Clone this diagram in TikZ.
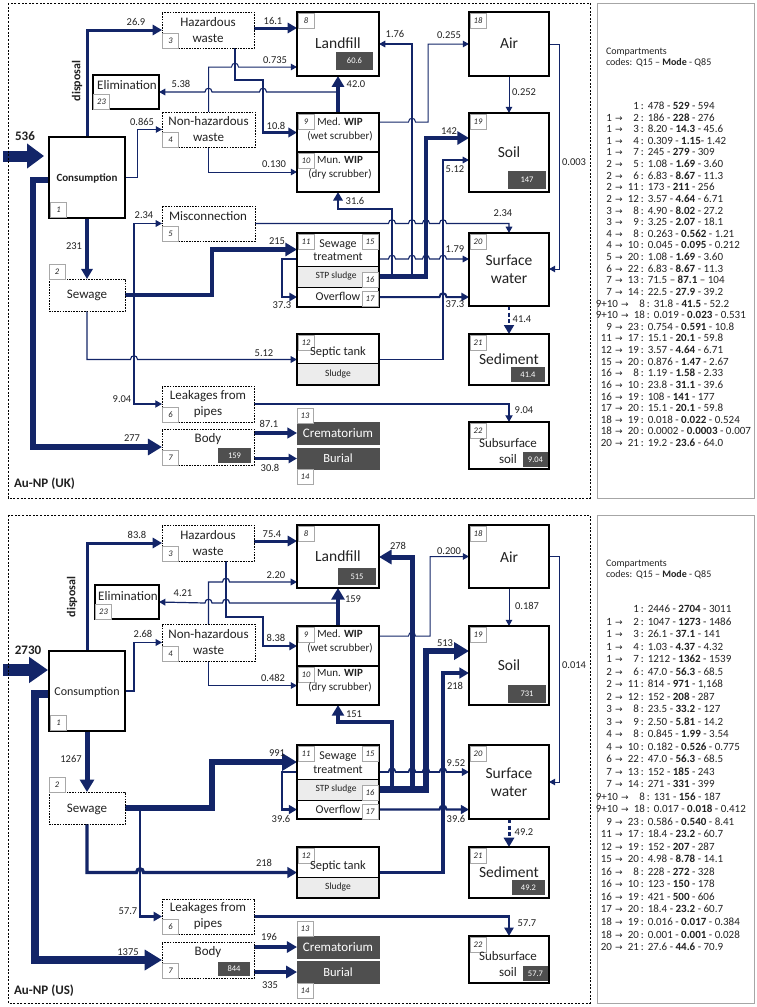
\documentclass[tikz,border=0pt]{standalone}
\usepackage{fontspec}
\setmainfont{Carlito}
\newfontfamily\djv{DejaVu Sans}
\usetikzlibrary{arrows.meta,calc}
\definecolor{nv}{HTML}{132568}
\definecolor{txt}{HTML}{222222}
\definecolor{vg}{HTML}{4F4F4F}
\definecolor{lg}{HTML}{ECECEC}
\definecolor{tg}{HTML}{A8A8A8}
\pgfdeclarelayer{bg}
\pgfsetlayers{bg,main}
\newcommand\mkbox[7][]{%
  \pgfmathsetmacro\mkcx{(#3+#5)/2}\pgfmathsetmacro\mkcy{(#4+#6)/2}%
  \pgfmathsetmacro\mkw{#5-(#3)}\pgfmathsetmacro\mkh{#6-(#4)}%
  \node[minimum width=\mkw pt, minimum height=\mkh pt, #1] (#2) at (\mkcx,\mkcy) {#7};}
\newcommand\tagn[4]{\mkbox[tagst]{#1}{#2}{#3}{#2+16}{#3+15}{#4}}
\newcommand\bumpR[2]{-- ({#1-3.5},#2) .. controls ({#1-3.5},{#2-5}) and ({#1+3.5},{#2-5}) .. ({#1+3.5},#2)}
\newcommand\bumpL[2]{-- ({#1+3.5},#2) .. controls ({#1+3.5},{#2-5}) and ({#1-3.5},{#2-5}) .. ({#1-3.5},#2)}
\def\tbase{0}\def\tstep{0}
\newcommand\trow[6][601]{%
  \pgfmathsetmacro\tyy{\tbase+#3*\tstep}%
  \node[tr, anchor=base west] (#2) at (#1,\tyy) {\makebox[11pt][r]{#4}\makebox[14pt]{\ifx\relax#4\relax\else{\djv\fontsize{9}{9}\selectfont →}\fi}\makebox[13pt][r]{#5}\,:\hspace{4pt}#6};}
\tikzset{
  every node/.style={inner sep=0pt, outer sep=0pt, text=txt},
  mb/.style={draw=black, line width=2.3pt, fill=white},
  tb/.style={draw=black, line width=1.3pt, fill=white},
  db/.style={draw=black, line width=0.9pt, dash pattern=on 1.6pt off 1.1pt, fill=white},
  tagst/.style={draw=tg, line width=0.6pt, fill=white, font=\fontsize{8.5}{9}\selectfont\itshape},
  valst/.style={fill=vg, text=white, font=\fontsize{8.5}{9}\selectfont},
  dk/.style={fill=vg, draw=vg, text=white},
  gr/.style={fill=lg, draw=black, line width=0.6pt},
  fl/.style={draw=nv, line width=#1, -{Triangle[length=4.5pt 1.6, width=4.5pt 1.9]}},
  ln/.style={draw=nv, line width=#1},
  lab/.style={font=\fontsize{10.5}{12}\selectfont},
  bigt/.style={font=\fontsize{15.5}{18}\selectfont, align=center},
  midt/.style={font=\fontsize{13}{16}\selectfont, align=center},
  smt/.style={font=\fontsize{11}{14}\selectfont, align=center},
  pan/.style={draw=black, line width=0.9pt, dash pattern=on 2pt off 1.6pt},
  tbl/.style={draw=black!35, line width=0.8pt},
  tr/.style={font=\fontsize{11}{12}\selectfont},
  hd/.style={font=\fontsize{10}{11}\selectfont},
}
\begin{document}
\begin{tikzpicture}[x=1pt,y=-1pt]
\useasboundingbox (0,0) rectangle (756,1007);
\begin{pgfonlayer}{bg}
\fill[white] (0,0) rectangle (756,1007);
\end{pgfonlayer}
\draw[pan] (8,3) rectangle (590,498);
\draw[pan] (8,515) rectangle (590,1003);
\draw[tbl] (597,3) rectangle (754,498);
\draw[tbl] (597,515) rectangle (754,1003);

% ================= UK nodes
\mkbox[mb]{n1a}{49}{137}{125}{218}{}
\mkbox[db]{n2a}{49}{279}{125}{311}{}
\mkbox[db]{n3a}{162}{12}{254}{48}{}
\mkbox[db]{n4a}{162}{112}{255}{147}{}
\mkbox[db]{n5a}{162}{206}{255}{241}{}
\mkbox[db]{n6a}{162}{386}{254}{422}{}
\mkbox[db]{n7a}{162}{429}{254}{465}{}
\mkbox[tb]{n23a}{93}{75}{159}{109}{}
\mkbox[mb]{n8a}{297}{12}{379}{76}{}
\mkbox[mb]{n9a}{297}{113}{379}{152}{}
\mkbox[mb]{n10a}{297}{152}{379}{192}{}
\mkbox[mb]{n18a}{469}{12}{549}{76}{}
\mkbox[mb]{n19a}{469}{113}{549}{192}{}
\mkbox[draw=none]{n11a}{297}{233}{379}{266}{}
\mkbox[gr]{n16a}{297}{266}{379}{287}{}
\mkbox[draw=none]{n17a}{297}{287}{379}{307}{}
\mkbox[mb,fill=none]{n15a}{297}{233}{379}{307}{}
\mkbox[mb]{n20a}{469}{233}{549}{306}{}
\mkbox[gr]{sl12a}{297}{363}{379}{385}{}
\mkbox[mb,fill=none]{n12a}{297}{334}{379}{385}{}
\mkbox[mb]{n21a}{469}{334}{549}{385}{}
\mkbox[dk,font=\fontsize{13}{14}\selectfont]{n13a}{297}{422}{379}{444}{Crematorium}
\mkbox[dk,font=\fontsize{12.5}{14}\selectfont]{n14a}{297}{448}{379}{469}{Burial}
\mkbox[tb]{n22a}{469}{422}{549}{469}{}

\mkbox[valst]{v8a}{336}{52}{373}{70}{60.6}
\mkbox[valst]{v19a}{508}{171}{546}{189}{147}
\mkbox[valst]{v21a}{511}{367}{545}{382}{41.4}
\mkbox[valst]{v22a}{523}{452}{548}{467}{9.04}
\mkbox[valst]{v7a}{218}{448}{251}{463}{159}

\tagn{t1a}{50.5}{202}{1}
\tagn{t2a}{49}{264}{2}
\tagn{t3a}{162.5}{33}{3}
\tagn{t4a}{162.5}{132}{4}
\tagn{t5a}{162.5}{226}{5}
\tagn{t6a}{162.5}{407}{6}
\tagn{t7a}{162.5}{450}{7}
\tagn{t23a}{93.5}{94}{23}
\tagn{t8a}{298}{13}{8}
\tagn{t9a}{298}{114}{9}
\tagn{t10a}{298}{153}{10}
\tagn{t18a}{470}{13}{18}
\tagn{t19a}{470}{114}{19}
\tagn{t11a}{298}{234}{11}
\tagn{t15a}{362}{234}{15}
\tagn{t16a}{362}{272}{16}
\tagn{t17a}{362}{291}{17}
\tagn{t20a}{470}{234}{20}
\tagn{t12a}{298}{335}{12}
\tagn{t21a}{470}{335}{21}
\tagn{t13a}{297}{408}{13}
\tagn{t14a}{297}{469}{14}
\tagn{t22a}{470}{423}{22}

\node[font=\bfseries\fontsize{11}{12}\selectfont] (x1a) at (87,178) {Consumption};
\node[midt] (x2a) at (87,295) {Sewage};
\node[midt] (x3a) at (208,30) {Hazardous\\waste};
\node[midt] (x4a) at (208.5,129.5) {Non-hazardous\\waste};
\node[midt] (x5a) at (208,216) {Misconnection};
\node[midt] (x6a) at (208,404) {Leakages from\\pipes};
\node[midt] (x7a) at (208,439) {Body};
\node[midt] (x23a) at (127,85) {Elimination};
\node[bigt] (x8a) at (338,43) {Landfill};
\node[smt] (x9a) at (340,129) {Med. \textbf{WIP}\\(wet scrubber)};
\node[smt] (x10a) at (340,168) {Mun. \textbf{WIP}\\(dry scrubber)};
\node[bigt] (x18a) at (509,43) {Air};
\node[bigt] (x19a) at (509,152) {Soil};
\node[font=\fontsize{12}{13.5}\selectfont, align=center] (x11a) at (338,250) {Sewage\\treatment};
\node[font=\fontsize{9.5}{10}\selectfont] (x16a) at (336,276.5) {STP sludge};
\node[font=\fontsize{12}{13}\selectfont] (x17a) at (338,296) {Overflow};
\node[bigt] (x20a) at (509,269) {Surface\\water};
\node[font=\fontsize{12.5}{13}\selectfont] (x12a) at (338,352) {Septic tank};
\node[font=\fontsize{9.5}{10}\selectfont] (xsla) at (338,374) {Sludge};
\node[bigt] (x21a) at (509,359) {Sediment};
\node[midt] (x22a) at (508,451) {Subsurface\\soil};
\node[font=\bfseries\fontsize{13}{14}\selectfont, anchor=west] (pa) at (14,484) {Au-NP (UK)};

% ================= UK connectors
\begin{pgfonlayer}{bg}
\coordinate (ina) at (3,156);
\draw[draw=nv, line width=11pt, -{Triangle[length=17pt,width=24pt]}, shorten >=5pt] (ina) -- (n1a.west |- ina);
\draw[fl=3pt] (n1a.north) |- (n3a.west);
\draw[fl=1pt] (n1a.east) -- ++(12,0) |- (n4a.west);
\draw[fl=3.5pt] (n1a.south) -- (n2a.north);
\draw[fl=6pt] (n1a.west |- 0,180) -- (33,180) |- (n7a.west);
\draw[fl=4.5pt] (n2a.east) -- (212,295) |- (n11a.west);
\coordinate (s2a) at (134,295);
\draw[fl=1.1pt] (s2a) |- (n5a.west);
\draw[fl=1.4pt] (s2a) |- (n6a.west);
\draw[fl=1.1pt] (n2a.south) -- (87,359.5) \bumpR{134}{359.5} -- (n12a.west);
\draw[fl=2pt] (n11a.west |- 0,259) -- (282,259) |- (n17a.west);
\draw[fl=1.4pt] (n6a.east) -| (n22a.north);
\draw[fl=3.2pt] (n7a.east |- n13a.west) -- (n13a.west);
\draw[fl=2.5pt] (n7a.east |- n14a.west) -- (n14a.west);
\draw[fl=3pt] (n3a.east |- 0,28) -- (n8a.west |- 0,28);
\draw[fl=1pt] (n4a.north) -- (208.5,67) \bumpR{235}{67} -- (n8a.west |- 0,67);
\draw[fl=2.6pt] (n3a.south -| 235,0) -- (235,80) -- (263,80) -- (263,132.5) -- (n9a.west);
\draw[fl=1pt] (n4a.south) |- (n10a.west);
\coordinate (j9a) at (338,92);
\draw[fl=1.1pt] (j9a) \bumpL{263}{92} \bumpL{208.5}{92} -- (n23a.east);
\draw[fl=4pt] (n9a.north) -- (n8a.south);
\draw[ln=5pt] (n16a.east) -- (426,276.5);
\draw[fl=1.1pt] (n16a.east) -| (412,44) -- (n8a.east);
\draw[fl=1pt] (n9a.east |- 0,122) \bumpR{412}{122} -- (428,122) |- (n18a.west);
\draw[fl=1pt] (n18a.south) -- (n19a.north);
\draw[fl=1pt] (n18a.east) -- (559,44) |- (n20a.east |- 0,269);
\draw[fl=4.5pt] (n16a.east) -| (426,138) -- (n19a.west |- 0,138);
\draw[fl=1.1pt] (n12a.east) -- (443,359.5) |- (n19a.west |- 0,160);
\draw[fl=2.5pt] (n16a.east) -| (392,209) -| (n10a.south);
\draw[fl=1.1pt] (n5a.east) \bumpR{392}{223.5} \bumpR{412}{223.5} \bumpR{426}{223.5} \bumpR{443}{223.5} -| (n20a.north);
\draw[fl=1.1pt] (n11a.east |- 0,259) \bumpR{392}{259} \bumpR{412}{259} \bumpR{426}{259} \bumpR{443}{259} -- (n20a.west |- 0,259);
\draw[fl=2pt] (n17a.east) \bumpR{443}{297} -- (n20a.west |- n17a.east);
\draw[fl=2.8pt, dash pattern=on 4pt off 2.5pt] (n20a.south) -- (n21a.north);
\end{pgfonlayer}

% UK flow labels
\node[font=\bfseries\fontsize{13}{14}\selectfont] (la1) at (25,136) {536};
\node[font=\bfseries\fontsize{12}{13}\selectfont, rotate=90] (la3) at (77,81) {disposal};
\node[lab] (la2) at (136,22) {26.9};
\node[lab] (la4) at (142,122) {0.865};
\node[lab] (la5) at (74,246) {231};
\node[lab] (la6) at (132,438) {277};
\node[lab] (la7) at (144,215) {2.34};
\node[lab] (la8) at (122,399) {9.04};
\node[lab] (la9) at (277,241) {215};
\node[lab] (la10) at (264,353) {5.12};
\node[lab] (la11) at (282,305) {37.3};
\node[lab] (la12) at (524,410) {9.04};
\node[lab] (la13) at (269,424) {87.1};
\node[lab] (la14) at (270,468) {30.8};
\node[lab] (la15) at (273,21) {16.1};
\node[lab] (la16) at (275,60) {0.735};
\node[lab] (la17) at (276,126) {10.8};
\node[lab] (la18) at (274,164) {0.130};
\node[lab] (la19) at (181,84) {5.38};
\node[lab] (la20) at (356,84) {42.0};
\node[lab] (la21) at (395,34) {1.76};
\node[lab] (la22) at (449,35) {0.255};
\node[lab] (la23) at (524,92) {0.252};
\node[lab] (la24) at (574,162) {0.003};
\node[lab] (la25) at (449,131) {142};
\node[lab] (la26) at (455,169) {5.12};
\node[lab] (la27) at (355,201) {31.6};
\node[lab] (la28) at (503,213) {2.34};
\node[lab] (la29) at (455,249) {1.79};
\node[lab] (la30) at (455,304) {37.3};
\node[lab] (la31) at (522,319) {41.4};

% ================= US nodes
\mkbox[mb]{n1b}{49}{651}{125}{731}{}
\mkbox[db]{n2b}{49}{792}{125}{824}{}
\mkbox[db]{n3b}{162}{525}{254}{561}{}
\mkbox[db]{n4b}{162}{624}{255}{661}{}
\mkbox[db]{n6b}{162}{899}{254}{934}{}
\mkbox[db]{n7b}{162}{942}{254}{978}{}
\mkbox[tb]{n23b}{95}{585}{159}{619}{}
\mkbox[mb]{n8b}{297}{525}{379}{588}{}
\mkbox[mb]{n9b}{297}{626}{379}{666}{}
\mkbox[mb]{n10b}{297}{666}{379}{705}{}
\mkbox[mb]{n18b}{469}{525}{549}{588}{}
\mkbox[mb]{n19b}{469}{626}{549}{705}{}
\mkbox[draw=none]{n11b}{297}{745}{379}{779}{}
\mkbox[gr]{n16b}{297}{779}{379}{800}{}
\mkbox[draw=none]{n17b}{297}{800}{379}{819}{}
\mkbox[mb,fill=none]{n15b}{297}{745}{379}{819}{}
\mkbox[mb]{n20b}{469}{745}{549}{819}{}
\mkbox[gr]{sl12b}{297}{877}{379}{898}{}
\mkbox[mb,fill=none]{n12b}{297}{847}{379}{898}{}
\mkbox[mb]{n21b}{469}{847}{549}{898}{}
\mkbox[dk,font=\fontsize{13}{14}\selectfont]{n13b}{297}{936}{379}{958}{Crematorium}
\mkbox[dk,font=\fontsize{12.5}{14}\selectfont]{n14b}{297}{961}{379}{983}{Burial}
\mkbox[tb]{n22b}{469}{936}{549}{983}{}

\mkbox[valst]{v8b}{338}{568}{376}{585}{515}
\mkbox[valst]{v19b}{508}{685}{546}{703}{731}
\mkbox[valst]{v21b}{512}{880}{545}{895}{49.2}
\mkbox[valst]{v22b}{523}{966}{548}{981}{57.7}
\mkbox[valst]{v7b}{218}{962}{250}{976}{844}

\tagn{t1b}{50.5}{715}{1}
\tagn{t2b}{49}{777}{2}
\tagn{t3b}{162.5}{546}{3}
\tagn{t4b}{162.5}{646}{4}
\tagn{t6b}{162.5}{919}{6}
\tagn{t7b}{162.5}{963}{7}
\tagn{t23b}{95.5}{604}{23}
\tagn{t8b}{298}{526}{8}
\tagn{t9b}{298}{627}{9}
\tagn{t10b}{298}{667}{10}
\tagn{t18b}{470}{526}{18}
\tagn{t19b}{470}{627}{19}
\tagn{t11b}{298}{746}{11}
\tagn{t15b}{362}{746}{15}
\tagn{t16b}{362}{785}{16}
\tagn{t17b}{362}{804}{17}
\tagn{t20b}{470}{746}{20}
\tagn{t12b}{298}{848}{12}
\tagn{t21b}{470}{848}{21}
\tagn{t13b}{297}{921}{13}
\tagn{t14b}{297}{983}{14}
\tagn{t22b}{470}{937}{22}

\node[font=\fontsize{12}{13}\selectfont] (x1b) at (87,692) {Consumption};
\node[midt] (x2b) at (87,809) {Sewage};
\node[midt] (x3b) at (208,543) {Hazardous\\waste};
\node[midt] (x4b) at (208.5,642.5) {Non-hazardous\\waste};
\node[midt] (x6b) at (208,916) {Leakages from\\pipes};
\node[midt] (x7b) at (208,952) {Body};
\node[midt] (x23b) at (128,596) {Elimination};
\node[bigt] (x8b) at (338,556) {Landfill};
\node[smt] (x9b) at (340,641.5) {Med. \textbf{WIP}\\(wet scrubber)};
\node[smt] (x10b) at (340,680.5) {Mun. \textbf{WIP}\\(dry scrubber)};
\node[bigt] (x18b) at (509,557) {Air};
\node[bigt] (x19b) at (509,665) {Soil};
\node[font=\fontsize{12}{13.5}\selectfont, align=center] (x11b) at (338,762.5) {Sewage\\treatment};
\node[font=\fontsize{9.5}{10}\selectfont] (x16b) at (336,789.5) {STP sludge};
\node[font=\fontsize{12}{13}\selectfont] (x17b) at (338,809) {Overflow};
\node[bigt] (x20b) at (509,782.5) {Surface\\water};
\node[font=\fontsize{12.5}{13}\selectfont] (x12b) at (338,866) {Septic tank};
\node[font=\fontsize{9.5}{10}\selectfont] (xslb) at (338,887) {Sludge};
\node[bigt] (x21b) at (509,872) {Sediment};
\node[midt] (x22b) at (508,964.5) {Subsurface\\soil};
\node[font=\bfseries\fontsize{13}{14}\selectfont, anchor=west] (pb) at (14,991) {Au-NP (US)};

% ================= US connectors
\begin{pgfonlayer}{bg}
\coordinate (inb) at (3,670);
\draw[draw=nv, line width=12pt, -{Triangle[length=19pt,width=25pt]}, shorten >=1pt] (inb) -- (n1b.west |- inb);
\draw[fl=3pt] (n1b.north) |- (n3b.west);
\draw[fl=1.2pt] (n1b.east) -- ++(9,0) |- (n4b.west);
\draw[fl=5pt] (n1b.south) -- (n2b.north);
\draw[fl=8pt] (n1b.west |- 0,694) -- (35,694) |- (n7b.west);
\draw[fl=6.5pt] (n2b.east) -- (212,808) |- (n11b.west);
\coordinate (s2b) at (140,808);
\draw[fl=2.5pt] (s2b) |- (n6b.west);
\draw[fl=3.2pt] (n2b.south) -- (87,872.5) \bumpR{140}{872.5} -- (n12b.west);
\draw[fl=2.2pt] (n11b.west |- 0,772) -- (282,772) |- (n17b.west);
\draw[fl=2.5pt] (n6b.east) -| (n22b.north);
\draw[fl=3.5pt] (n7b.east |- n13b.west) -- (n13b.west);
\draw[fl=4pt] (n7b.east |- n14b.west) -- (n14b.west);
\draw[fl=3pt] (n3b.east |- 0,541) -- (n8b.west |- 0,541);
\draw[fl=1.2pt] (n4b.north) -- (208.5,582) \bumpR{226}{582} -- (n8b.west |- 0,582);
\draw[fl=2pt] (n3b.south -| 226,0) -- (226,617) -- (263,617) -- (263,646) -- (n9b.west);
\draw[fl=1pt] (n4b.south) |- (n10b.west);
\coordinate (j9b) at (338,603);
\draw[fl=1.2pt] (j9b) \bumpL{226}{603} \bumpL{208.5}{603} -- (n23b.east);
\draw[fl=4.5pt] (n9b.north) -- (n8b.south);
\draw[ln=7pt] (n16b.east) -- (426,789.5);
\draw[fl=5pt] (n16b.east) -| (412,557) -- (n8b.east |- 0,557);
\draw[fl=1pt] (n9b.east |- 0,636) \bumpR{412}{636} -- (430,636) |- (n18b.west);
\draw[fl=1pt] (n18b.south) -- (n19b.north);
\draw[fl=1pt] (n18b.east) -- (559,556.5) |- (n20b.east);
\draw[fl=6.5pt] (n16b.east) -| (426,651) -- (n19b.west |- 0,651);
\draw[fl=3.2pt] (n12b.east) -- (443,872.5) |- (n19b.west |- 0,673);
\draw[fl=3.8pt] (n16b.east) -| (392,722) -| (n10b.south);
\draw[fl=1.6pt] (n11b.east |- 0,772) \bumpR{392}{772} \bumpR{412}{772} \bumpR{426}{772} \bumpR{443}{772} -- (n20b.west |- 0,772);
\draw[fl=2.2pt] (n17b.east) \bumpR{443}{809.5} -- (n20b.west |- n17b.east);
\draw[fl=3pt, dash pattern=on 4pt off 2.5pt] (n20b.south) -- (n21b.north);
\end{pgfonlayer}

% US flow labels
\node[font=\bfseries\fontsize{13}{14}\selectfont] (lb1) at (28,650) {2730};
\node[font=\bfseries\fontsize{12}{13}\selectfont, rotate=90] (lb3) at (72,597) {disposal};
\node[lab] (lb2) at (137,535) {83.8};
\node[lab] (lb4) at (143,634) {2.68};
\node[lab] (lb5) at (71,759) {1267};
\node[lab] (lb6) at (128,952) {1375};
\node[lab] (lb8) at (128,911) {57.7};
\node[lab] (lb9) at (277,753) {991};
\node[lab] (lb10) at (264,863) {218};
\node[lab] (lb11) at (281,819) {39.6};
\node[lab] (lb12) at (527,923) {57.7};
\node[lab] (lb13) at (269,937) {196};
\node[lab] (lb14) at (270,985) {335};
\node[lab] (lb15) at (272,534) {75.4};
\node[lab] (lb16) at (276,575) {2.20};
\node[lab] (lb17) at (276,638) {8.38};
\node[lab] (lb18) at (273,678) {0.482};
\node[lab] (lb19) at (183,593) {4.21};
\node[lab] (lb20) at (353,599) {159};
\node[lab] (lb21) at (398,546) {278};
\node[lab] (lb22) at (449,551) {0.200};
\node[lab] (lb23) at (527,606) {0.187};
\node[lab] (lb24) at (574,665) {0.014};
\node[lab] (lb25) at (445,643) {513};
\node[lab] (lb26) at (455,686) {218};
\node[lab] (lb27) at (354,714) {151};
\node[lab] (lb29) at (456,763) {9.52};
\node[lab] (lb30) at (456,819) {39.6};
\node[lab] (lb31) at (524,832) {49.2};

% ================= tables
\node[hd, anchor=base west] (hA1) at (606,54) {Compartments};
\node[hd, anchor=base west] (hA2) at (606,65) {codes:};
\node[hd, anchor=base west] (hA3) at (636,65) {Q15 – \textbf{Mode} - Q85};
\def\tbase{109.5}\def\tstep{11.62}
\trow{ra0}{0}{}{1}{478 - \textbf{529} - 594}
\trow{ra1}{1}{1}{2}{186 - \textbf{228} - 276}
\trow{ra2}{2}{1}{3}{8.20 - \textbf{14.3} - 45.6}
\trow{ra3}{3}{1}{4}{0.309 - \textbf{1.15}- 1.42}
\trow{ra4}{4}{1}{7}{245 - \textbf{279} - 309}
\trow{ra5}{5}{2}{5}{1.08 - \textbf{1.69} - 3.60}
\trow{ra6}{6}{2}{6}{6.83 - \textbf{8.67} - 11.3}
\trow{ra7}{7}{2}{11}{173 - \textbf{211} - 256}
\trow{ra8}{8}{2}{12}{3.57 - \textbf{4.64} - 6.71}
\trow{ra9}{9}{3}{8}{4.90 - \textbf{8.02} - 27.2}
\trow{ra10}{10}{3}{9}{3.25 - \textbf{2.07} - 18.1}
\trow{ra11}{11}{4}{8}{0.263 - \textbf{0.562} - 1.21}
\trow{ra12}{12}{4}{10}{0.045 - \textbf{0.095} - 0.212}
\trow{ra13}{13}{5}{20}{1.08 - \textbf{1.69} - 3.60}
\trow{ra14}{14}{6}{22}{6.83 - \textbf{8.67} - 11.3}
\trow{ra15}{15}{7}{13}{71.5 – \textbf{87.1} – 104}
\trow{ra16}{16}{7}{14}{22.5 - \textbf{27.9} - 39.2}
\trow[607]{ra17}{17}{9+10}{8}{31.8 - \textbf{41.5} - 52.2}
\trow[607]{ra18}{18}{9+10}{18}{0.019 - \textbf{0.023} - 0.531}
\trow{ra19}{19}{9}{23}{0.754 - \textbf{0.591} - 10.8}
\trow{ra20}{20}{11}{17}{15.1 - \textbf{20.1} - 59.8}
\trow{ra21}{21}{12}{19}{3.57 - \textbf{4.64} - 6.71}
\trow{ra22}{22}{15}{20}{0.876 - \textbf{1.47} - 2.67}
\trow{ra23}{23}{16}{8}{1.19 - \textbf{1.58} - 2.33}
\trow{ra24}{24}{16}{10}{23.8 - \textbf{31.1} - 39.6}
\trow{ra25}{25}{16}{19}{108 - \textbf{141} - 177}
\trow{ra26}{26}{17}{20}{15.1 - \textbf{20.1} - 59.8}
\trow{ra27}{27}{18}{19}{0.018 - \textbf{0.022} - 0.524}
\trow{ra28}{28}{18}{20}{0.0002 - \textbf{0.0003} - 0.007}
\trow{ra29}{29}{20}{21}{19.2 - \textbf{23.6} - 64.0}

\node[hd, anchor=base west] (hB1) at (606,566) {Compartments};
\node[hd, anchor=base west] (hB2) at (606,577) {codes:};
\node[hd, anchor=base west] (hB3) at (636,577) {Q15 – \textbf{Mode} - Q85};
\def\tbase{612.5}\def\tstep{12.52}
\trow{rb0}{0}{}{1}{2446 - \textbf{2704} - 3011}
\trow{rb1}{1}{1}{2}{1047 - \textbf{1273} - 1486}
\trow{rb2}{2}{1}{3}{26.1 - \textbf{37.1} - 141}
\trow{rb3}{3}{1}{4}{1.03 - \textbf{4.37} - 4.32}
\trow{rb4}{4}{1}{7}{1212 - \textbf{1362} - 1539}
\trow{rb5}{5}{2}{6}{47.0 - \textbf{56.3} - 68.5}
\trow{rb6}{6}{2}{11}{814 - \textbf{971} - 1,168}
\trow{rb7}{7}{2}{12}{152 - \textbf{208} - 287}
\trow{rb8}{8}{3}{8}{23.5 - \textbf{33.2} - 127}
\trow{rb9}{9}{3}{9}{2.50 - \textbf{5.81} - 14.2}
\trow{rb10}{10}{4}{8}{0.845 - \textbf{1.99} - 3.54}
\trow{rb11}{11}{4}{10}{0.182 - \textbf{0.526} - 0.775}
\trow{rb12}{12}{6}{22}{47.0 - \textbf{56.3} - 68.5}
\trow{rb13}{13}{7}{13}{152 - \textbf{185} - 243}
\trow{rb14}{14}{7}{14}{271 - \textbf{331} - 399}
\trow[607]{rb15}{15}{9+10}{8}{131 - \textbf{156} - 187}
\trow[607]{rb16}{16}{9+10}{18}{0.017 - \textbf{0.018} - 0.412}
\trow{rb17}{17}{9}{23}{0.586 - \textbf{0.540} - 8.41}
\trow{rb18}{18}{11}{17}{18.4 - \textbf{23.2} - 60.7}
\trow{rb19}{19}{12}{19}{152 - \textbf{207} - 287}
\trow{rb20}{20}{15}{20}{4.98 - \textbf{8.78} - 14.1}
\trow{rb21}{21}{16}{8}{228 - \textbf{272} - 328}
\trow{rb22}{22}{16}{10}{123 - \textbf{150} - 178}
\trow{rb23}{23}{16}{19}{421 - \textbf{500} - 606}
\trow{rb24}{24}{17}{20}{18.4 - \textbf{23.2} - 60.7}
\trow{rb25}{25}{18}{19}{0.016 - \textbf{0.017} - 0.384}
\trow{rb26}{26}{18}{20}{0.001 - \textbf{0.001} - 0.028}
\trow{rb27}{27}{20}{21}{27.6 - \textbf{44.6} - 70.9}
\end{tikzpicture}
\end{document}
